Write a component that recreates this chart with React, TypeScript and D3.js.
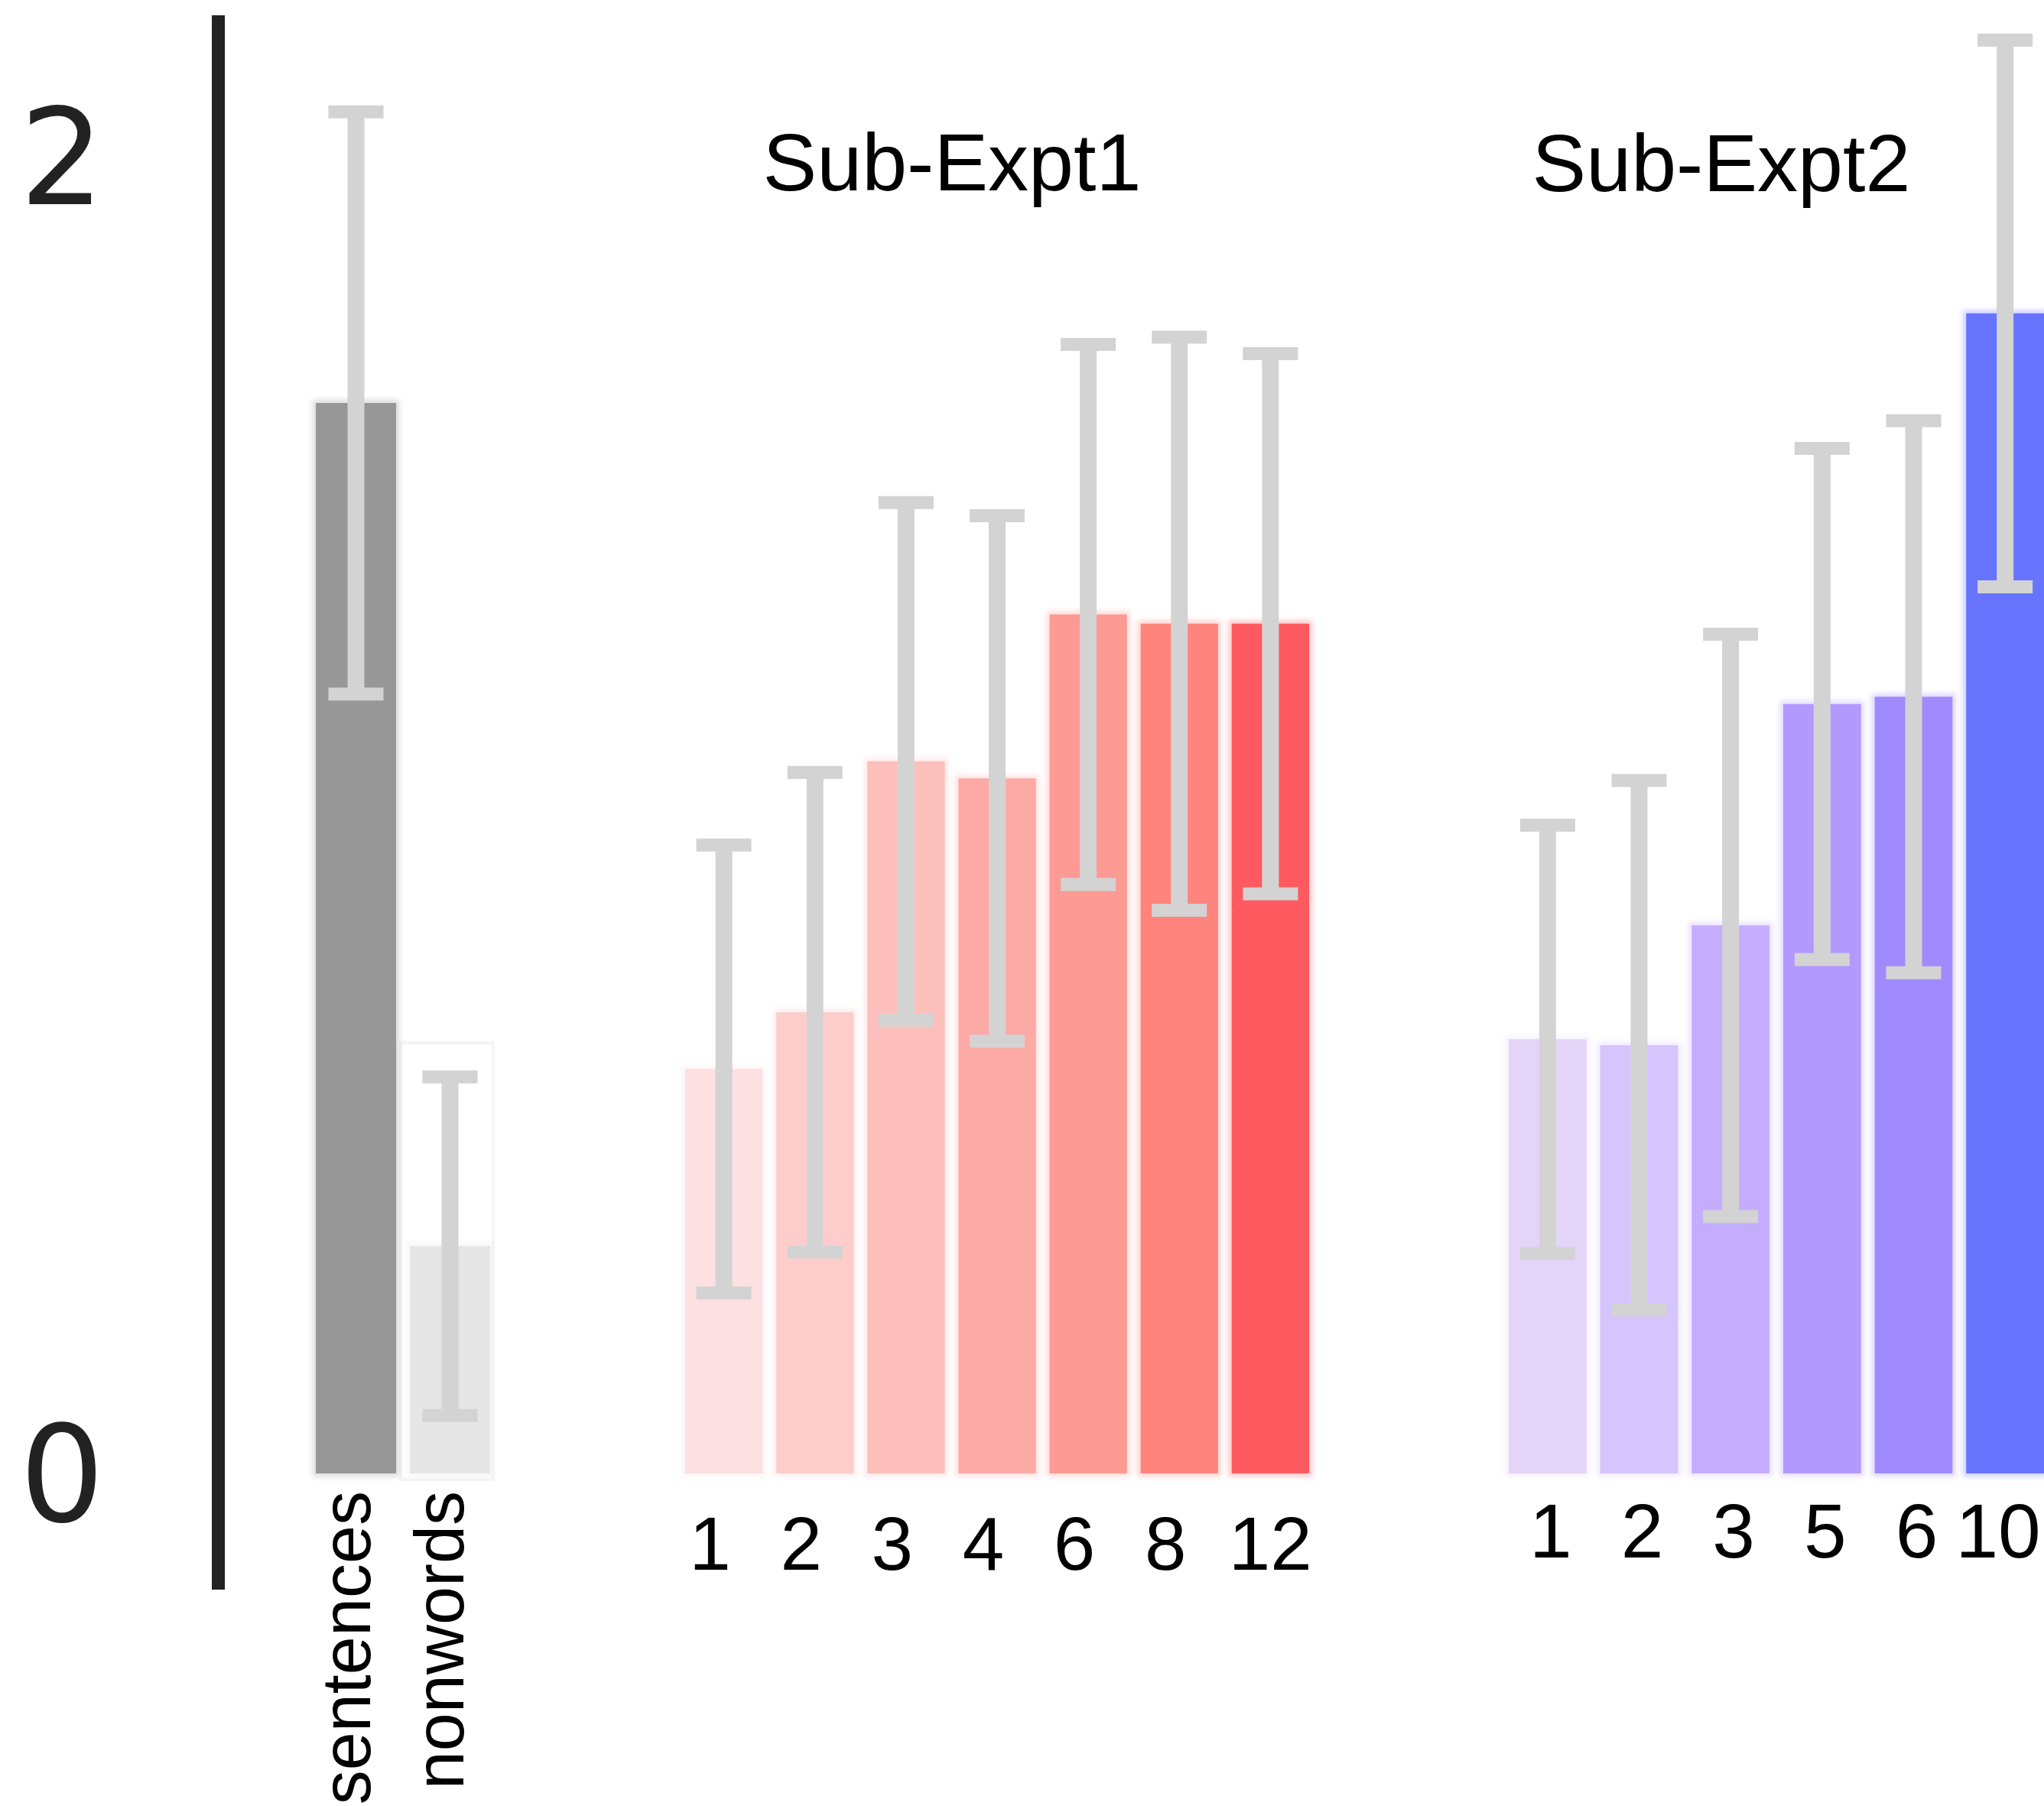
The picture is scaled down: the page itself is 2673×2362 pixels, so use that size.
import React from 'react';
import * as d3 from 'd3';

// ---------- data ----------
const yTicks = [0, 2];

const baseCategories = ['sentences', 'nonwords'];
const baseMeans = [1.625, 0.345];
const baseErrs = [0.442, 0.257];
const baseColors = ['#979797', '#e6e6e6'];

const exp1Title = 'Sub-Expt1';
const exp1Categories = ['1', '2', '3', '4', '6', '8', '12'];
const exp1Means = [0.614, 0.7, 1.081, 1.055, 1.304, 1.29, 1.29];
const exp1Errs = [0.34, 0.364, 0.393, 0.399, 0.41, 0.435, 0.41];
const exp1Colors = ['#fde0e1', '#fdcdcb', '#fdbfbb', '#fda9a5', '#fd9a93', '#fe847d', '#fe5a60'];

const exp2Title = 'Sub-Expt2';
const exp2Categories = ['1', '2', '3', '5', '6', '10'];
const exp2Means = [0.659, 0.65, 0.832, 1.168, 1.179, 1.761];
const exp2Errs = [0.325, 0.402, 0.442, 0.388, 0.419, 0.415];
const exp2Colors = ['#e2d5f8', '#d5c4fe', '#c5adfe', '#b299fe', '#9f8bfe', '#6674fe'];

// ---------- layout ----------
const W = 2673;
const H = 2362;
const ERR_COLOR = '#d3d3d3';
const SANS = '"Liberation Sans", Arial, Helvetica, sans-serif';

const y = d3.scaleLinear().domain([0, 2]).range([1927, 204]);

const xBase = d3.scaleBand<string>().domain(baseCategories).range([413, 641]).paddingInner(0.146).paddingOuter(0);
const xExp1 = d3.scaleBand<string>().domain(exp1Categories).range([896, 1712]).paddingInner(0.15).paddingOuter(0);
const xExp2 = d3.scaleBand<string>().domain(exp2Categories).range([1973, 2673]).paddingInner(0.15).paddingOuter(0);

type PanelProps = {
  x: d3.ScaleBand<string>;
  cats: string[];
  means: number[];
  errs: number[];
  colors: string[];
};

function Bars({ x, cats, means, errs, colors }: PanelProps) {
  const bw = x.bandwidth();
  const halo = 4;
  return (
    <g>
      {cats.map((c, i) => {
        const x0 = x(c) as number;
        const top = y(means[i]);
        const base = y(0);
        return (
          <g key={'bar' + c}>
            <rect x={x0 - halo} y={top - halo} width={bw + 2 * halo} height={base - top + 2 * halo}
              fill={colors[i]} opacity={0.35} filter="url(#soft)" />
            <rect x={x0} y={top} width={bw} height={base - top} fill={colors[i]} />
          </g>
        );
      })}
      {cats.map((c, i) => {
        const cx = (x(c) as number) + bw / 2;
        const hi = y(means[i] + errs[i]);
        const lo = y(means[i] - errs[i]);
        const capW = 72;
        return (
          <g key={'err' + c} stroke={ERR_COLOR}>
            <line x1={cx} x2={cx} y1={hi} y2={lo} strokeWidth={22} />
            <line x1={cx - capW / 2} x2={cx + capW / 2} y1={hi} y2={hi} strokeWidth={17} />
            <line x1={cx - capW / 2} x2={cx + capW / 2} y1={lo} y2={lo} strokeWidth={17} />
          </g>
        );
      })}
    </g>
  );
}

export default function App() {
  return (
    <svg width={W} height={H} viewBox={`0 0 ${W} ${H}`}
      style={{ position: 'absolute', left: 0, top: 0, display: 'block', background: '#ffffff' }}>
      <defs>
        <filter id="soft" x="-20%" y="-5%" width="140%" height="110%">
          <feGaussianBlur stdDeviation="3.5" />
        </filter>
      </defs>
      <rect x={0} y={0} width={W} height={H} fill="#ffffff" />

      {/* y axis */}
      <line x1={285.5} x2={285.5} y1={20} y2={2079} stroke="#222222" strokeWidth={17} />
      {yTicks.map((t) => (
        <text key={'yt' + t} x={81} y={y(t) + 63} textAnchor="middle"
          fontFamily='"DejaVu Sans", sans-serif' fontSize={174} fill="#222222">{t}</text>
      ))}

      {/* faint frame behind nonwords */}
      <rect x={524} y={1364} width={121} height={571} fill="#ffffff" stroke="#f5f5f5" strokeWidth={4} />

      {/* base panel */}
      <Bars x={xBase} cats={baseCategories} means={baseMeans} errs={baseErrs} colors={baseColors} />
      {baseCategories.map((c) => {
        const bx = (xBase(c) as number) + xBase.bandwidth() / 2 + 18;
        const by = 1950;
        return (
          <text key={'bl' + c} transform={`translate(${bx},${by}) rotate(-90)`} textAnchor="end"
            fontFamily={SANS} fontSize={90} fill="#000000">{c}</text>
        );
      })}

      {/* Sub-Expt1 */}
      <text x={1245} y={249} textAnchor="middle" fontFamily={SANS} fontSize={106} fill="#000000">{exp1Title}</text>
      <Bars x={xExp1} cats={exp1Categories} means={exp1Means} errs={exp1Errs} colors={exp1Colors} />
      {exp1Categories.map((c) => {
        const cx = (xExp1(c) as number) + xExp1.bandwidth() / 2 + (c.length === 1 ? -18 : 0);
        return (
          <text key={'e1' + c} x={cx} y={2053} textAnchor="middle" fontFamily={SANS} fontSize={98} fill="#000000">{c}</text>
        );
      })}

      {/* Sub-Expt2 */}
      <text x={2251} y={250} textAnchor="middle" fontFamily={SANS} fontSize={106} fill="#000000">{exp2Title}</text>
      <Bars x={xExp2} cats={exp2Categories} means={exp2Means} errs={exp2Errs} colors={exp2Colors} />
      {exp2Categories.map((c) => {
        const cx = Math.min((xExp2(c) as number) + xExp2.bandwidth() / 2 + 4, W - 60);
        return (
          <text key={'e2' + c} x={cx} y={2037} textAnchor="middle" fontFamily={SANS} fontSize={100} fill="#000000">{c}</text>
        );
      })}
    </svg>
  );
}
